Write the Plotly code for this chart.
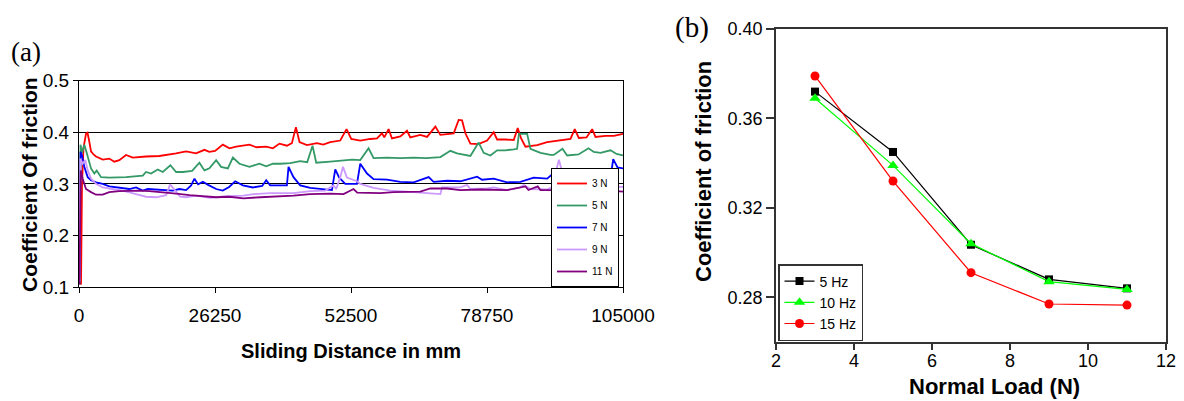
import plotly.graph_objects as go

# Page window is 1184x401; the browser body adds an 8 px margin, so the figure is
# sized to the visible area and pixel positions below are given in window coordinates.
OFF = 8
W, H = 1184 - OFF, 401 - OFF

# ---------------- Panel (a) data: sliding distance (mm) vs coefficient of friction ----------------
red_x = [190, 390, 580, 870, 1350, 1640, 1930, 2320, 2800, 3280, 4580, 5850, 6820, 7790, 9080, 10370,
         12940, 15510, 18740, 20670, 22600, 24210, 25170, 26270, 27760, 29040, 30330, 32900, 34200,
         36130, 37420, 38700, 40130, 41090, 41870, 42560, 43990, 45920, 47140, 48490, 50430, 51640,
         52550, 54290, 56220, 57520, 58480, 58930, 59760, 60410, 62020, 63310, 63950, 65880, 67180,
         68780, 69750, 72320, 73280, 73940, 74580, 75540, 77090, 78770, 80040, 80700, 82300, 83910,
         84680, 85340, 86170, 88430, 90360, 92290, 94860, 95690, 96470, 97950, 99050, 99690, 101620,
         103230, 104330, 105000]
red_y = [0.11, 0.105, 0.30, 0.37, 0.397, 0.399, 0.385, 0.363, 0.357, 0.353, 0.347, 0.349, 0.343, 0.346,
         0.356, 0.351, 0.353, 0.354, 0.359, 0.363, 0.359, 0.366, 0.362, 0.364, 0.376, 0.369, 0.372,
         0.376, 0.371, 0.372, 0.369, 0.378, 0.374, 0.379, 0.410, 0.381, 0.375, 0.379, 0.376, 0.381,
         0.384, 0.406, 0.387, 0.384, 0.387, 0.388, 0.398, 0.390, 0.406, 0.388, 0.392, 0.403, 0.390,
         0.395, 0.391, 0.411, 0.395, 0.398, 0.424, 0.423, 0.398, 0.378, 0.377, 0.384, 0.400, 0.386,
         0.386, 0.385, 0.408, 0.388, 0.372, 0.375, 0.381, 0.384, 0.387, 0.406, 0.389, 0.390, 0.406,
         0.391, 0.393, 0.393, 0.396, 0.397]

green_x = [100, 190, 290, 580, 1020, 1350, 1680, 2320, 2960, 3420, 4250, 5850, 9080, 12310, 12940,
           13910, 15200, 16170, 17640, 18740, 20040, 21830, 23240, 24210, 25170, 26470, 27430, 28730,
           29700, 30970, 32900, 34830, 36130, 37420, 38830, 40770, 42700, 44050, 45070, 45790, 48490,
           51060, 52740, 54290, 55890, 56860, 59450, 62020, 64590, 67040, 69750, 71680, 72970, 75540,
           77140, 78110, 79410, 80700, 82300, 83910, 84560, 84910, 86500, 87130, 89070, 91000, 91640,
           93320, 94220, 96410, 98340, 99360, 100660, 102590, 103750, 105000]
green_y = [0.105, 0.20, 0.376, 0.360, 0.376, 0.365, 0.353, 0.330, 0.320, 0.326, 0.313, 0.312, 0.313,
           0.316, 0.323, 0.320, 0.328, 0.323, 0.336, 0.323, 0.323, 0.325, 0.341, 0.326, 0.330, 0.346,
           0.333, 0.330, 0.351, 0.339, 0.333, 0.339, 0.334, 0.339, 0.339, 0.340, 0.344, 0.342, 0.374,
           0.341, 0.343, 0.346, 0.347, 0.346, 0.369, 0.350, 0.351, 0.350, 0.351, 0.350, 0.352, 0.364,
           0.359, 0.354, 0.380, 0.360, 0.355, 0.365, 0.365, 0.367, 0.368, 0.397, 0.397, 0.368, 0.360,
           0.356, 0.356, 0.368, 0.355, 0.357, 0.369, 0.362, 0.360, 0.365, 0.358, 0.355]

blue_x = [100, 190, 290, 580, 1020, 1680, 2320, 3280, 4580, 5850, 7790, 9720, 11010, 12310, 13270,
          15650, 18100, 19380, 20670, 21640, 22280, 22990, 23900, 24920, 26470, 27760, 28980, 30140,
          31630, 33560, 35360, 36130, 36900, 40130, 40440, 41400, 42700, 44630, 46560, 48820, 49460,
          50230, 51390, 53650, 54290, 55590, 56860, 59450, 62020, 64590, 67490, 68450, 71040, 73610,
          76840, 77800, 80040, 82630, 85200, 87770, 90360, 91640, 92290, 94860, 98730, 102590, 103110,
          103940, 105000]
blue_y = [0.12, 0.25, 0.362, 0.355, 0.333, 0.313, 0.307, 0.303, 0.300, 0.295, 0.293, 0.290, 0.293,
          0.287, 0.290, 0.289, 0.287, 0.290, 0.288, 0.297, 0.310, 0.299, 0.304, 0.298, 0.290, 0.287,
          0.294, 0.305, 0.297, 0.293, 0.296, 0.307, 0.297, 0.297, 0.333, 0.313, 0.297, 0.292, 0.290,
          0.288, 0.328, 0.312, 0.300, 0.300, 0.339, 0.320, 0.309, 0.308, 0.304, 0.303, 0.313, 0.304,
          0.306, 0.305, 0.314, 0.308, 0.310, 0.303, 0.304, 0.312, 0.310, 0.321, 0.309, 0.310, 0.312,
          0.312, 0.348, 0.332, 0.330]

lav_x = [100, 190, 250, 710, 1220, 1680, 2320, 3280, 4580, 6380, 8440, 11010, 12940, 14880, 16230,
         16810, 17580, 18220, 18740, 19510, 20670, 22600, 25310, 28400, 31740, 33670, 36900, 41400,
         44630, 47530, 49130, 49650, 50430, 50950, 51720, 53650, 54290, 56860, 60090, 64590, 69750,
         70070, 73610, 74900, 75540, 78770, 80040, 82630, 85200, 85840, 87130, 90360, 91580, 92290,
         92640, 93320, 94860, 98730, 102590, 105000]
lav_y = [0.11, 0.25, 0.349, 0.339, 0.346, 0.326, 0.310, 0.300, 0.293, 0.290, 0.287, 0.280, 0.275,
         0.274, 0.276, 0.278, 0.299, 0.290, 0.285, 0.275, 0.274, 0.277, 0.273, 0.276, 0.277, 0.280,
         0.282, 0.282, 0.286, 0.287, 0.297, 0.290, 0.313, 0.333, 0.312, 0.305, 0.300, 0.292, 0.287,
         0.284, 0.280, 0.293, 0.293, 0.298, 0.290, 0.291, 0.293, 0.288, 0.293, 0.298, 0.290, 0.289,
         0.295, 0.333, 0.347, 0.320, 0.300, 0.295, 0.294, 0.294]

pur_x = [100, 230, 330, 710, 1350, 2320, 3280, 4580, 5850, 7790, 11650, 13580, 16170, 18740, 21310,
         23900, 26470, 28980, 31740, 34970, 38200, 41400, 44630, 48490, 51060, 52990, 53710, 58150,
         60720, 65880, 67810, 71040, 73610, 77470, 82630, 86170, 86750, 88540, 89070, 92930, 98730,
         102590, 105000]
pur_y = [0.105, 0.20, 0.326, 0.310, 0.290, 0.284, 0.279, 0.279, 0.284, 0.286, 0.287, 0.286, 0.284,
         0.281, 0.278, 0.276, 0.274, 0.275, 0.272, 0.274, 0.275, 0.277, 0.280, 0.281, 0.280, 0.290,
         0.283, 0.282, 0.284, 0.285, 0.291, 0.291, 0.288, 0.289, 0.288, 0.295, 0.288, 0.295, 0.288,
         0.288, 0.290, 0.287, 0.285]

a_names = ["3 N", "5 N", "7 N", "9 N", "11 N"]
a_colors = ["#FF0000", "#339966", "#0000FF", "#CC99FF", "#800080"]
a_xticks = [0, 26250, 52500, 78750, 105000]
a_xticktext = ["0", "26250", "52500", "78750", "105000"]
a_yticks = [0.1, 0.2, 0.3, 0.4, 0.5]
a_yticktext = ["0.1", "0.2", "0.3", "0.4", "0.5"]

# ---------------- Panel (b) data ----------------
load = [3, 5, 7, 9, 11]
hz5 = [0.372, 0.345, 0.3035, 0.288, 0.284]
hz10 = [0.369, 0.339, 0.304, 0.287, 0.2835]
hz15 = [0.379, 0.332, 0.291, 0.277, 0.2765]
b_names = ["5 Hz", "10 Hz", "15 Hz"]
b_colors = ["#000000", "#00FF00", "#FF0000"]
b_symbols = ["square", "triangle-up", "circle"]
b_sizes = [8, 10, 9]
b_xticks = [2, 4, 6, 8, 10, 12]
b_yticks = [0.28, 0.32, 0.36, 0.40]
b_yticktext = ["0.28", "0.32", "0.36", "0.40"]


def fx(px):
    return (px - OFF) / W


def fy(py):
    return 1 - (py - OFF) / H


SANS = "Arial, Liberation Sans, sans-serif"
SERIF = "Times New Roman, Liberation Serif, serif"

fig = go.Figure()

a_series = [(red_x, red_y), (green_x, green_y), (blue_x, blue_y), (lav_x, lav_y), (pur_x, pur_y)]
for (xs, ys), name, col in zip(a_series, a_names, a_colors):
    fig.add_trace(go.Scatter(x=xs, y=ys, mode="lines", name=name,
                             line=dict(color=col, width=1.8),
                             xaxis="x", yaxis="y", legend="legend", legendgroup=name))

for ys, name, col, sym, sz in zip([hz5, hz10, hz15], b_names, b_colors, b_symbols, b_sizes):
    fig.add_trace(go.Scatter(x=load, y=ys, mode="lines+markers", name=name,
                             line=dict(color=col, width=1.2),
                             marker=dict(color=col, symbol=sym, size=sz, line=dict(width=0)),
                             xaxis="x2", yaxis="y2", legend="legend2"))

tick_font = dict(family=SANS, size=19, color="black")
tick_font_b = dict(family=SANS, size=18, color="black")

fig.update_layout(
    width=W, height=H, autosize=False,
    margin=dict(l=0, r=0, t=0, b=0, pad=0, autoexpand=False),
    paper_bgcolor="white", plot_bgcolor="white",
    showlegend=True,
    xaxis=dict(domain=[fx(79), fx(623)], range=[0, 105000], anchor="y", automargin=False,
               tickvals=a_xticks, ticktext=a_xticktext, ticks="outside", ticklen=5,
               tickcolor="black", showline=True, linecolor="black", linewidth=1, mirror=True,
               showgrid=False, zeroline=False, tickfont=tick_font, ticklabelstandoff=6),
    yaxis=dict(domain=[fy(287), fy(80.7)], range=[0.1, 0.5], anchor="x", automargin=False,
               tickvals=a_yticks, ticktext=a_yticktext, ticks="outside", ticklen=5,
               tickcolor="black", showline=True, linecolor="black", linewidth=1, mirror=True,
               showgrid=True, gridcolor="black", gridwidth=1, zeroline=False, tickfont=tick_font),
    xaxis2=dict(domain=[fx(776), fx(1166)], range=[2, 12], anchor="y2", automargin=False,
                tickvals=b_xticks, ticks="outside", ticklen=6, tickwidth=1.5,
                tickcolor="#333333", showline=True, linecolor="#333333", linewidth=1.5, mirror=True,
                showgrid=False, zeroline=False, tickfont=tick_font_b, ticklabelstandoff=-4),
    yaxis2=dict(domain=[fy(342), fy(29)], range=[0.26, 0.40], anchor="x2", automargin=False,
                tickvals=b_yticks, ticktext=b_yticktext, ticks="outside", ticklen=8, tickwidth=1.5,
                tickcolor="#333333", showline=True, linecolor="#333333", linewidth=1.5, mirror=True,
                showgrid=False, zeroline=False, tickfont=tick_font_b),
    legend=dict(x=fx(619), y=fy(287), xanchor="right", yanchor="bottom",
                bgcolor="white", bordercolor="black", borderwidth=1,
                font=dict(family=SANS, size=10, color="black"),
                tracegroupgap=3, itemwidth=30),
    legend2=dict(x=fx(778), y=fy(341), xanchor="left", yanchor="bottom",
                 bgcolor="white", bordercolor="#333333", borderwidth=1.5,
                 font=dict(family=SANS, size=14, color="black"), itemwidth=30),
)

annotations = [
    dict(text="(a)", x=fx(26), y=fy(52), font=dict(family=SERIF, size=27, color="black")),
    dict(text="(b)", x=fx(692), y=fy(27.5), font=dict(family=SERIF, size=29, color="black")),
    dict(text="<b>Coefficient Of friction</b>", x=fx(29), y=fy(185), textangle=-90,
         font=dict(family=SANS, size=21, color="black")),
    dict(text="<b>Sliding Distance in mm</b>", x=fx(351), y=fy(351),
         font=dict(family=SANS, size=20, color="black")),
    dict(text="<b>Coefficient of friction</b>", x=fx(704), y=fy(172), textangle=-90,
         font=dict(family=SANS, size=22, color="black")),
    dict(text="<b>Normal Load (N)</b>", x=fx(994), y=fy(386),
         font=dict(family=SANS, size=22, color="black")),
]
for a in annotations:
    fig.add_annotation(xref="paper", yref="paper", showarrow=False,
                       xanchor="center", yanchor="middle", **a)

fig.write_html("out.html")
